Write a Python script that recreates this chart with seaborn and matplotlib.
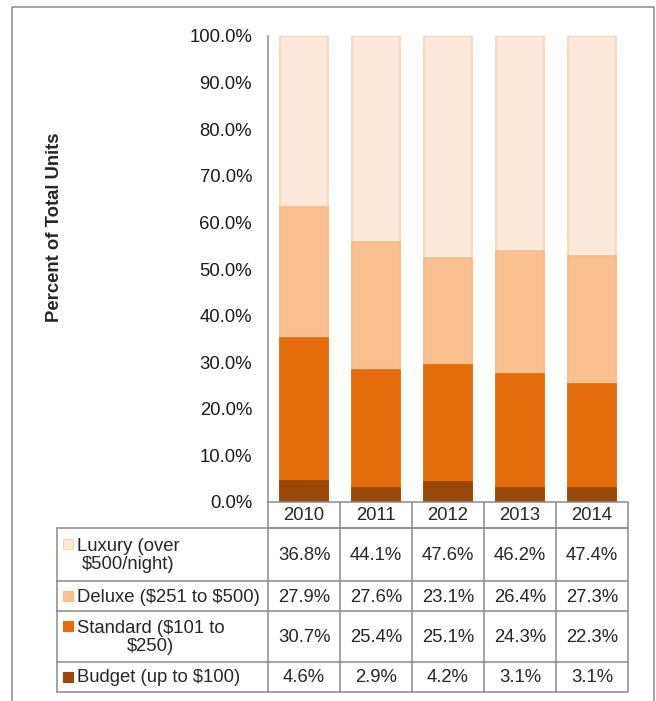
import pandas as pd
import matplotlib
matplotlib.use("Agg")
from matplotlib import pyplot as plt
from matplotlib.patches import Rectangle
from matplotlib.ticker import PercentFormatter
import seaborn as sns

# data (percent of total units)
years = ["2010", "2011", "2012", "2013", "2014"]
classes = ["Luxury (over\n$500/night)", "Deluxe ($251 to $500)",
           "Standard ($101 to\n$250)", "Budget (up to $100)"]
luxury = [36.8, 44.1, 47.6, 46.2, 47.4]
deluxe = [27.9, 27.6, 23.1, 26.4, 27.3]
standard = [30.7, 25.4, 25.1, 24.3, 22.3]
budget = [4.6, 2.9, 4.2, 3.1, 3.1]

faces = ["#FDE9D9", "#FAC090", "#E46C0A", "#984807"]
edges = ["#FBD4B4", "#F9B987", "#E46C0A", "#984807"]
grey = "#8A8A8A"
fs = 13.3

sns.set_style("white")
plt.rcParams["font.family"] = ["Liberation Sans", "DejaVu Sans"]
plt.rcParams["text.parse_math"] = False

# stacked bars: draw cumulative totals, top layer first, overlaid
rows = []
series = [luxury, deluxe, standard, budget]
for i, y in enumerate(years):
    cum = 0
    tops = []
    for s in reversed(series):
        cum += s[i]
        tops.append(cum)
    tops = tops[::-1]
    for c, t in zip(classes, tops):
        rows.append({"Year": y, "Class": c, "cum": t})
df = pd.DataFrame(rows)

W, H = 656, 701
fig = plt.figure(figsize=(W / 100, H / 100), dpi=100)

# layout in pixels
ax_l, ax_r, ax_t, ax_b = 268, 628, 36, 502
ax = fig.add_axes([ax_l / W, 1 - ax_b / H, (ax_r - ax_l) / W, (ax_b - ax_t) / H])

sns.barplot(data=df, x="Year", y="cum", hue="Class", hue_order=classes,
            order=years, dodge=False, palette=faces, width=0.667,
            saturation=1, legend=False, ax=ax, linewidth=1.2)
for patch_group, ec in zip(ax.containers, edges):
    for p in patch_group:
        p.set_edgecolor(ec)

ax.set_ylim(0, 100)
ax.set_xlim(-0.5, 4.5)
ax.set_yticks(range(0, 101, 10))
ax.yaxis.set_major_formatter(PercentFormatter(xmax=100, decimals=1))
ax.tick_params(axis="y", length=0, pad=11.5, labelsize=fs, labelcolor="#1a1a1a")
ax.set_xticks([])
ax.set_xlabel("")
ax.set_ylabel("")
for side in ["top", "right"]:
    ax.spines[side].set_visible(False)
for side in ["left", "bottom"]:
    ax.spines[side].set_color(grey)
    ax.spines[side].set_linewidth(1.1)

fig.text(55 / W, 1 - 227 / H, "Percent of Total Units", rotation=90,
         ha="center", va="center", fontsize=fs, fontweight="bold")

# data table below the plot, in pixel coordinates
tab = fig.add_axes([0, 0, 1, 1], zorder=-1)
tab.set_xlim(0, W)
tab.set_ylim(H, 0)
tab.axis("off")

# outer chart border
tab.add_patch(Rectangle((12, 7), 654 - 12, 760, fill=False, edgecolor=grey, lw=1.1))

col_w = (ax_r - ax_l) / len(years)
col_x = [ax_l + col_w * i for i in range(len(years) + 1)]
head_t, head_b = 502, 528
row_edges = [528, 581, 611, 662, 692]
tab_l = 57

lw = 1.1
# header row
tab.plot([ax_l, ax_r], [head_b, head_b], color=grey, lw=lw)
for x in col_x:
    tab.plot([x, x], [head_t, head_b], color=grey, lw=lw)
for i, y in enumerate(years):
    tab.text(col_x[i] + col_w / 2, (head_t + head_b) / 2 + 1, y,
             ha="center", va="center", fontsize=fs)

# body rows
for y in row_edges:
    tab.plot([tab_l, ax_r], [y, y], color=grey, lw=lw)
for x in [tab_l, ax_l] + col_x[1:]:
    tab.plot([x, x], [row_edges[0], row_edges[-1]], color=grey, lw=lw)

for r, (name, vals) in enumerate(zip(classes, series)):
    yc = (row_edges[r] + row_edges[r + 1]) / 2
    nlines = name.count("\n") + 1
    first = yc - (nlines - 1) * 10.5
    tab.add_patch(Rectangle((63, first - 5), 10, 10, facecolor=faces[r],
                            edgecolor=edges[r], lw=0.8))
    tab.text(77, yc + 1, name, ha="left", va="center", multialignment="center",
             fontsize=fs, linespacing=1.15)
    for i, v in enumerate(vals):
        tab.text(col_x[i] + col_w / 2, yc + 1, f"{v:.1f}%",
                 ha="center", va="center", fontsize=fs)

fig.savefig("out.png", dpi=100)
